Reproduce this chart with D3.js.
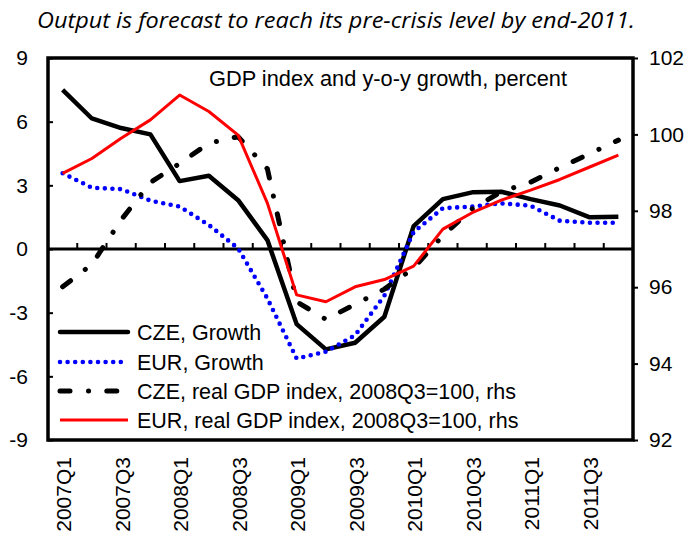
<!DOCTYPE html>
<html>
<head>
<meta charset="utf-8">
<script src="https://cdn.jsdelivr.net/npm/d3@7"></script>
<style>
  html, body { margin: 0; padding: 0; background: #fff; }
  svg { display: block; }
</style>
</head>
<body>
<svg id="chart" width="686" height="533"></svg>
<script>
const categories = ["2007Q1","2007Q2","2007Q3","2007Q4","2008Q1","2008Q2","2008Q3","2008Q4",
  "2009Q1","2009Q2","2009Q3","2009Q4","2010Q1","2010Q2","2010Q3","2010Q4",
  "2011Q1","2011Q2","2011Q3","2011Q4"];
const czeGrowth = [7.5, 6.15, 5.7, 5.4, 3.2, 3.45, 2.3, 0.42, -3.54, -4.73, -4.42, -3.19, 1.08, 2.35, 2.67, 2.7, 2.35, 2.05, 1.5, 1.52];
const eurGrowth = [3.57, 2.89, 2.82, 2.28, 2.0, 1.13, 0.03, -2.33, -5.16, -4.84, -4.06, -2.2, 0.8, 1.92, 2.0, 2.15, 2.04, 1.33, 1.24, 1.24];
const czeIndex = [96.01, 96.6, 97.76, 98.74, 99.24, 99.77, 99.94, 99.1, 95.62, 95.16, 95.55, 95.95, 96.5, 97.35, 98.05, 98.5, 98.75, 99.13, 99.49, 99.85];
const eurIndex = [98.98, 99.37, 99.9, 100.38, 101.03, 100.6, 99.98, 98.2, 95.8, 95.62, 96.01, 96.2, 96.55, 97.52, 97.95, 98.28, 98.54, 98.82, 99.14, 99.46];
const leftTicks = [-9, -6, -3, 0, 3, 6, 9];
const rightTicks = [92, 94, 96, 98, 100, 102];
const xLabels = ["2007Q1","2007Q3","2008Q1","2008Q3","2009Q1","2009Q3","2010Q1","2010Q3","2011Q1","2011Q3"];
const seriesNames = ["CZE, Growth", "EUR, Growth", "CZE, real GDP index, 2008Q3=100, rhs", "EUR, real GDP index, 2008Q3=100, rhs"];
const titleText = "Output is forecast to reach its pre-crisis level by end-2011.";
const innerText = "GDP index and y-o-y growth, percent";

const L = 48, R = 633, T = 58, B = 440;
const font = "'Liberation Sans', Arial, sans-serif";
const svg = d3.select("#chart");

const x = d3.scalePoint().domain(categories).range([L, R]).padding(0.5);
const yL = d3.scaleLinear().domain([-9, 9]).range([B, T]);
const yR = d3.scaleLinear().domain([92, 102]).range([B, T]);
const step = x.step();

// title
svg.append("text").attr("x", 37).attr("y", 28)
  .attr("font-family", "'Open Sans', sans-serif").attr("font-style", "italic")
  .attr("font-size", 21).attr("textLength", 598).attr("lengthAdjust", "spacingAndGlyphs")
  .attr("fill", "#000").text(titleText);

// zero line
svg.append("line").attr("x1", L).attr("x2", R).attr("y1", yL(0)).attr("y2", yL(0))
  .attr("stroke", "#000").attr("stroke-width", 3);
// category boundary ticks on the zero line
svg.append("g").selectAll("line").data(categories.slice(1)).join("line")
  .attr("x1", d => x(d) - step / 2).attr("x2", d => x(d) - step / 2)
  .attr("y1", yL(0)).attr("y2", yL(0) - 6)
  .attr("stroke", "#000").attr("stroke-width", 2);

// axes
const gl = svg.append("g").attr("transform", `translate(${L},0)`)
  .call(d3.axisLeft(yL).tickValues(leftTicks).tickFormat(d => String(d))
    .tickSizeInner(-5).tickSizeOuter(0).tickPadding(20));
const gr = svg.append("g").attr("transform", `translate(${R},0)`)
  .call(d3.axisRight(yR).tickValues(rightTicks).tickFormat(d => String(d))
    .tickSizeInner(5).tickSizeOuter(0).tickPadding(11));
[gl, gr].forEach(g => {
  g.select(".domain").remove();
  g.selectAll(".tick line").attr("stroke", "#000").attr("stroke-width", 2);
  g.selectAll(".tick text").attr("font-family", font).attr("font-size", 21).attr("fill", "#000");
});

// x labels
svg.append("g").selectAll("text").data(xLabels).join("text")
  .attr("transform", d => `translate(${x(d) + 1},457) rotate(-90)`)
  .attr("text-anchor", "end").attr("dy", "0.36em")
  .attr("font-family", font).attr("font-size", 21).attr("fill", "#000")
  .text(d => d);

// frame
svg.append("rect").attr("x", L).attr("y", T).attr("width", R - L).attr("height", B - T)
  .attr("fill", "none").attr("stroke", "#000").attr("stroke-width", 3.5);

// inner label
svg.append("text").attr("x", 209).attr("y", 86)
  .attr("font-family", font).attr("font-size", 21.5)
  .attr("textLength", 358).attr("lengthAdjust", "spacingAndGlyphs")
  .attr("fill", "#000").text(innerText);

const styles = [
  { color: "#000", width: 4.5, dash: null, cap: "butt" },
  { color: "#0000ff", width: 4.6, dash: "0 7.6", cap: "round" },
  { color: "#000", width: 5, dash: "10 18.5 0.1 18.2", cap: "round" },
  { color: "#ff0000", width: 3, dash: null, cap: "butt" }
];
const seriesData = [
  { vals: czeGrowth, y: yL },
  { vals: eurGrowth, y: yL },
  { vals: czeIndex, y: yR },
  { vals: eurIndex, y: yR }
];

seriesData.forEach((s, i) => {
  const st = styles[i];
  const line = d3.line().x((d, j) => x(categories[j])).y(d => s.y(d));
  svg.append("path").datum(s.vals).attr("d", line)
    .attr("fill", "none").attr("stroke", st.color).attr("stroke-width", st.width)
    .attr("stroke-linejoin", "round").attr("stroke-linecap", st.cap)
    .attr("stroke-dasharray", st.dash);
});

// legend
const legY = [332, 362, 391, 420];
seriesNames.forEach((name, i) => {
  const st = styles[i];
  svg.append("line").attr("x1", 60).attr("x2", 128).attr("y1", legY[i]).attr("y2", legY[i])
    .attr("stroke", st.color).attr("stroke-width", st.width)
    .attr("stroke-linecap", i === 0 ? "round" : st.cap).attr("stroke-dasharray", st.dash);
  svg.append("text").attr("x", 137).attr("y", legY[i]).attr("dy", "0.35em")
    .attr("font-family", font).attr("font-size", 21.5).attr("fill", "#000").text(name);
});
</script>
</body>
</html>
